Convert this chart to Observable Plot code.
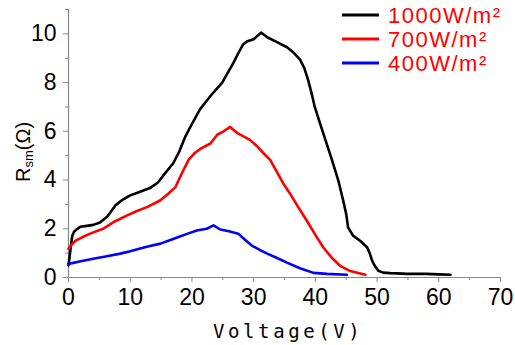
<!DOCTYPE html>
<html><head><meta charset="utf-8">
<script src="https://cdn.jsdelivr.net/npm/d3@7"></script>
<script src="https://cdn.jsdelivr.net/npm/@observablehq/plot@0.6"></script>
<style>
html,body{margin:0;padding:0;background:#fff;}
#wrap{position:relative;width:515px;height:345px;overflow:hidden;}
</style>
</head><body><div id="wrap"></div>
<script>
const seriesNames = ["1000W/m²", "700W/m²", "400W/m²"];
const seriesColors = ["#000000", "#ff0000", "#0000ff"];

const V1000 = [0, 0.3, 0.6, 0.9, 1.3, 1.9, 3, 4, 5.1, 6.3, 7.6, 8.8, 10, 11.6, 13.2, 14.5, 15.4, 17, 18, 18.9, 20, 21.3, 23, 24.9, 26.7, 27.5, 28.3, 29, 30, 31.2, 32.2, 33.8, 35.4, 36.5, 37.5, 38.2, 38.8, 39.4, 39.9, 41.1, 42.7, 43.7, 44.5, 45, 45.3, 46.1, 47.3, 48.4, 48.8, 49.2, 49.7, 50.2, 51, 52.1, 55, 58, 60, 61.9];
const R1000 = [0.5, 1.1, 1.7, 1.88, 1.97, 2.08, 2.12, 2.16, 2.26, 2.5, 2.96, 3.2, 3.37, 3.52, 3.67, 3.9, 4.2, 4.7, 5.2, 5.77, 6.3, 6.9, 7.45, 8.0, 8.8, 9.2, 9.57, 9.7, 9.78, 10.05, 9.86, 9.66, 9.45, 9.22, 8.95, 8.6, 8.13, 7.55, 7.0, 6.06, 4.82, 4.0, 3.17, 2.6, 2.06, 1.72, 1.5, 1.23, 1.0, 0.69, 0.45, 0.28, 0.2, 0.18, 0.15, 0.15, 0.13, 0.11];

const V700 = [0, 0.5, 1.1, 2.2, 3.5, 5.6, 7.5, 9.5, 11, 12.8, 14.9, 16.2, 17.3, 18.6, 19.5, 20.5, 21.5, 23, 24.1, 25, 26.2, 27.3, 29.4, 30.5, 31.6, 32.7, 34.8, 35.9, 37.2, 38.6, 40, 41.3, 42.7, 44, 45.5, 48.1];
const R700 = [1.18, 1.35, 1.5, 1.65, 1.8, 2.0, 2.3, 2.55, 2.72, 2.9, 3.17, 3.45, 3.7, 4.4, 4.85, 5.12, 5.3, 5.5, 5.86, 5.98, 6.18, 5.94, 5.65, 5.4, 5.1, 4.82, 3.86, 3.44, 2.9, 2.34, 1.75, 1.23, 0.8, 0.48, 0.28, 0.11];

const V400 = [0, 2, 4, 6, 8.4, 10, 11.6, 13.2, 14.9, 16.3, 17.6, 19.2, 20.8, 22.4, 23.5, 24.6, 26, 27.5, 28.6, 29.7, 31, 32.2, 33.8, 35.4, 37.5, 39.7, 41.9, 45.1];
const R400 = [0.56, 0.67, 0.77, 0.86, 0.98, 1.08, 1.19, 1.29, 1.39, 1.52, 1.64, 1.79, 1.93, 2.0, 2.14, 1.97, 1.9, 1.8, 1.55, 1.31, 1.13, 0.98, 0.8, 0.61, 0.38, 0.19, 0.15, 0.11];

const xMajor = [0, 10, 20, 30, 40, 50, 60, 70];
const xMinor = [5, 15, 25, 35, 45, 55, 65];
const yMajor = [0, 2, 4, 6, 8, 10];
const yMinor = [1, 3, 5, 7, 9, 11];

const allV = [V1000, V700, V400], allR = [R1000, R700, R400];
const data = [];
allV.forEach((vs, s) => vs.forEach((v, i) => data.push({series: seriesNames[s], V: v, R: allR[s][i]})));

const axisColor = "#888";
const chart = Plot.plot({
  width: 515, height: 345,
  marginLeft: 68, marginRight: 15, marginTop: 9, marginBottom: 68,
  style: {background: "#fff", overflow: "visible"},
  x: {domain: [0, 70]},
  y: {domain: [0, 11]},
  color: {domain: seriesNames, range: seriesColors},
  marks: [
    Plot.ruleY([0], {stroke: axisColor, strokeWidth: 1.2}),
    Plot.ruleX([0], {stroke: axisColor, strokeWidth: 1.2}),
    Plot.axisX(xMajor, {tickSize: 5, tickPadding: 6, fontSize: 23, fontFamily: "Liberation Sans, Arial, sans-serif", stroke: axisColor, fill: "#000", label: null}),
    Plot.axisX(xMinor, {tickSize: 3, text: null, stroke: axisColor, label: null}),
    Plot.axisY(yMajor, {tickSize: 5, tickPadding: 7, fontSize: 23, fontFamily: "Liberation Sans, Arial, sans-serif", stroke: axisColor, fill: "#000", label: null}),
    Plot.axisY(yMinor, {tickSize: 3, text: null, stroke: axisColor, label: null}),
    Plot.line(data, {x: "V", y: "R", z: "series", stroke: "series", strokeWidth: 2.6, curve: "linear"})
  ]
});
document.getElementById("wrap").appendChild(chart);

const svg = d3.select(chart);
// x-axis title
svg.append("text")
  .attr("x", 213).attr("y", 338)
  .attr("text-anchor", "start")
  .attr("font-family", "DejaVu Sans Mono, monospace")
  .attr("font-size", 19).attr("letter-spacing", 3.6)
  .attr("fill", "#000")
  .text("Voltage(V)");
// y-axis title with subscript
const yt = svg.append("text")
  .attr("transform", "translate(30,182) rotate(-90)")
  .attr("text-anchor", "start")
  .attr("font-family", "Liberation Sans, Arial, sans-serif")
  .attr("font-size", 20).attr("fill", "#000");
yt.append("tspan").text("R");
yt.append("tspan").attr("font-size", 13).attr("dy", 3).text("sm");
yt.append("tspan").attr("dy", -3).text("(Ω)");

// legend (inside the svg, top right)
const lg = svg.append("g").attr("text-anchor", "start");
seriesNames.forEach((n, i) => {
  const cy = 15 + i * 24;
  lg.append("line").attr("x1", 342).attr("x2", 379).attr("y1", cy).attr("y2", cy)
    .attr("stroke", seriesColors[i]).attr("stroke-width", 3);
  lg.append("text").attr("x", 388).attr("y", cy + 8)
    .attr("font-family", "Liberation Sans, Arial, sans-serif")
    .attr("font-size", 22).attr("letter-spacing", 1.5)
    .attr("fill", "#ff0000").text(n);
});
</script></body></html>
